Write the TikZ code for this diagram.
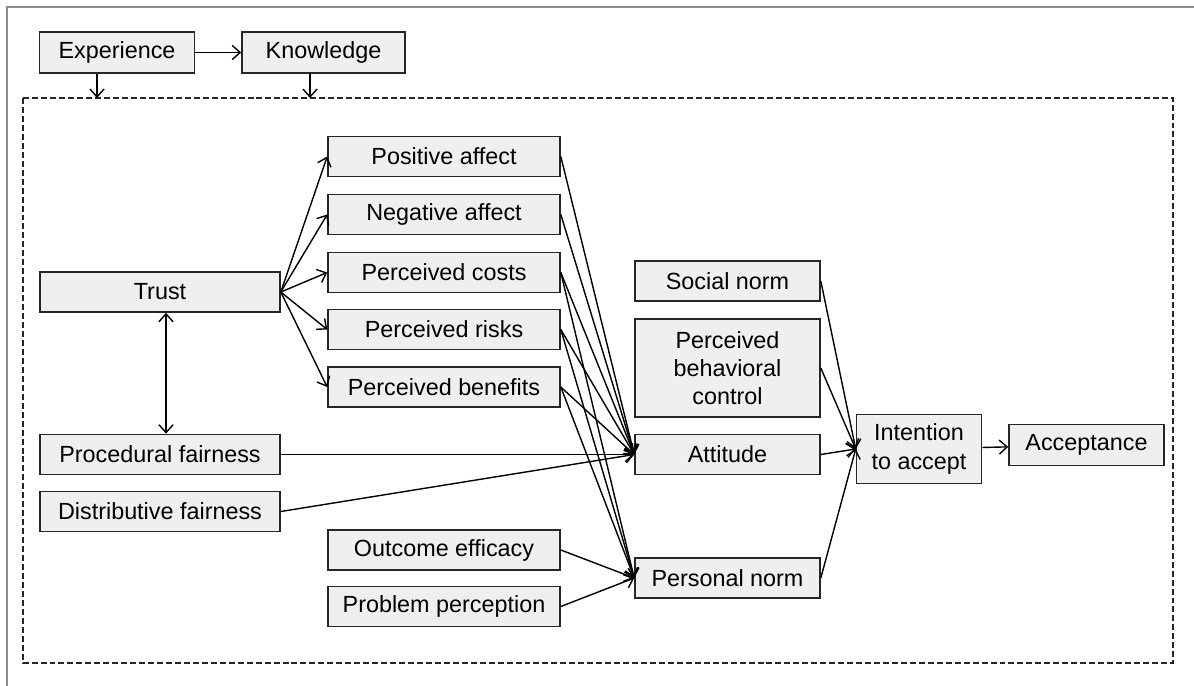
\documentclass[tikz,border=0pt]{standalone}
\usepackage{fontspec}
\setmainfont{Liberation Sans}
\usetikzlibrary{arrows.meta,scopes}
\definecolor{boxFill}{RGB}{239,239,239}
\definecolor{frameGray}{RGB}{140,140,140}

\begin{document}
\begin{tikzpicture}[
    font=\fontsize{13.3}{16}\selectfont,
    >={Straight Barb[length=4.5pt,width=8pt]},
    factor/.style={draw=black!85, line width=0.9pt, fill=boxFill, align=center, minimum height=0.8cm, inner sep=2pt},
    wide/.style={factor, minimum width=4.8cm},
    mid/.style={factor, minimum width=4.64cm},
    side/.style={factor, minimum width=3.7cm},
    link/.style={->, line width=0.8pt}
  ]
    \useasboundingbox (0,0) rectangle (23.88,-13.72);
    % page frame and context box
    \draw[frameGray, line width=1.2pt] (0.14,-13.72) -- (0.14,-0.14) -- (23.88,-0.14);
    \draw[black!85, line width=1.1pt, dash pattern=on 3.4pt off 1.7pt] (0.46,-1.96) rectangle (23.46,-13.26);
    \coordinate (EXP-in) at (1.94,-1.96);
    \coordinate (KNW-in) at (6.2,-1.96);

    \node[factor, minimum width=3.1cm, minimum height=0.82cm] (EXP) at (2.34,-1.05) {Experience};
    \node[factor, minimum width=3.26cm, minimum height=0.82cm] (KNW) at (6.47,-1.05) {Knowledge};

    \node[wide] (TR) at (3.2,-5.84) {Trust};
    \node[wide] (PF) at (3.2,-9.09) {Procedural fairness};
    \node[wide] (DF) at (3.2,-10.23) {Distributive fairness};

    \node[mid] (PA) at (8.88,-3.13) {Positive affect};
    \node[mid] (NA) at (8.88,-4.29) {Negative affect};
    \node[mid] (PC) at (8.88,-5.45) {Perceived costs};
    \node[mid] (PR) at (8.88,-6.59) {Perceived risks};
    \node[mid] (PB) at (8.88,-7.74) {Perceived benefits};
    \node[mid] (OE) at (8.88,-11.0) {Outcome efficacy};
    \node[mid] (PP) at (8.88,-12.13) {Problem perception};

    \node[side] (SN) at (14.55,-5.62) {Social norm};
    \node[side, minimum height=1.96cm] (PBC) at (14.55,-7.36) {Perceived\\behavioral\\control};
    \node[side] (ATT) at (14.55,-9.09) {Attitude};
    \node[side] (PN) at (14.55,-11.56) {Personal norm};

    \node[factor, minimum width=2.5cm, minimum height=1.38cm] (INT) at (18.38,-8.98) {Intention\\to accept};
    \node[factor, minimum width=3.1cm, minimum height=0.82cm] (ACC) at (21.73,-8.9) {Acceptance};

    {[link]
      \draw (EXP) -- (KNW);
      \draw (EXP.south -| EXP-in) -- (EXP-in);
      \draw (KNW.south -| KNW-in) -- (KNW-in);
      \draw[<->] ([xshift=0.12cm]TR.south) -- ([xshift=0.12cm]PF.north);
      \foreach \t in {PA,NA,PC,PR,PB}
        \draw (TR.east) -- (\t.west);
      \foreach \s in {PA,NA,PC,PR,PB,PF,DF}
        \draw (\s.east) -- (ATT.west);
      \foreach \s in {PC,PR,PB,OE,PP}
        \draw (\s.east) -- (PN.west);
      \foreach \s in {SN,PBC,ATT,PN}
        \draw (\s.east) -- (INT.west);
      \draw (INT) -- (ACC);
    }
\end{tikzpicture}
\end{document}
